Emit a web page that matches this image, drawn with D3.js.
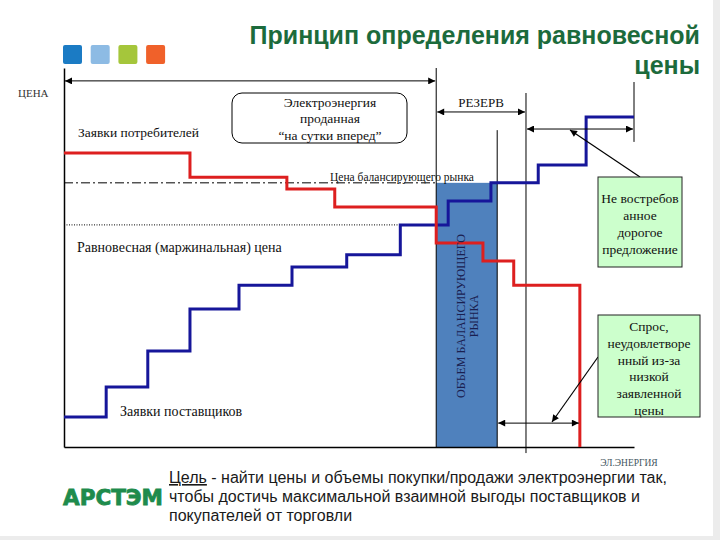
<!DOCTYPE html>
<html>
<head>
  <meta charset="utf-8">
  <title>Принцип определения равновесной цены</title>
  <script src="https://d3js.org/d3.v7.min.js"></script>
  <style>
    body { margin: 0; background: #ffffff; }
  </style>
</head>
<body>
<script type="text/javascript">
  var w = 720;
  var h = 540;
  var serif = "'Liberation Serif', 'DejaVu Serif', 'Times New Roman', serif";

  // volume (x) and price (y) in relative units 0..100
  var demandVol   = [0, 22.1, 39.1, 47.5, 65.3, 73.5, 78.9, 90.5];
  var demandPrice = [77.6, 71.2, 68.1, 63.3, 53.8, 49.1, 42.7, 0];

  var supplyVol   = [0, 7.4, 14.7, 22.1, 30.7, 40, 49.6, 59, 67.4, 74.9, 83.2, 91.6, 100];
  var supplyPrice = [7.9, 15.8, 25.3, 36.4, 42.7, 47.5, 50.7, 58.6, 64.9, 69.7, 74.4, 87.1, 87.1];

  var equilibriumPrice = 58.6;   // равновесная цена
  var balancingPrice = 69.7;     // цена балансирующего рынка
  var balancingVol = [65.3, 76.0]; // объем балансирующего рынка
  var reserveVol = [65.3, 81.05];
  var unclaimedVol = [81.05, 100];
  var unmetVol = [76.0, 90.5];

  var logoColors = ["#1b7bc4", "#8dbbe4", "#a5c63b", "#f0612a"];

  var svg = d3.select("body").append("svg")
    .attr("width", w)
    .attr("height", h);

  // slide frame: light grey edge on right and bottom
  svg.append("rect").attr("width", w).attr("height", h).attr("fill", "#ececec");
  svg.append("rect").attr("width", 713).attr("height", 536).attr("fill", "#ffffff");

  var x = d3.scaleLinear().domain([0, 100]).range([64, 634]);
  var y = d3.scaleLinear().domain([0, 100]).range([447, 68]);

  // arrow heads
  var defs = svg.append("defs");
  defs.append("marker")
    .attr("id", "arr")
    .attr("viewBox", "0 0 10 10")
    .attr("refX", 10).attr("refY", 5)
    .attr("markerWidth", 9).attr("markerHeight", 7)
    .attr("markerUnits", "userSpaceOnUse")
    .attr("orient", "auto-start-reverse")
    .append("path").attr("d", "M0,0 L10,5 L0,10 z").attr("fill", "#000");

  // little squares of the template
  svg.selectAll("rect.logo")
    .data(logoColors)
    .enter()
    .append("rect")
    .attr("class", "logo")
    .attr("x", function(d, i){ return 63 + i * 27.7; })
    .attr("y", 45)
    .attr("width", 19).attr("height", 19)
    .attr("rx", 2)
    .attr("fill", function(d){ return d; });

  // title
  svg.append("text")
    .attr("x", 700).attr("y", 44)
    .attr("text-anchor", "end")
    .style("font-family", "Liberation Sans, Arial, sans-serif")
    .style("font-weight", "bold")
    .style("font-size", "25px")
    .attr("fill", "#1c6b3c")
    .text("Принцип определения равновесной");
  svg.append("text")
    .attr("x", 700).attr("y", 74)
    .attr("text-anchor", "end")
    .style("font-family", "Liberation Sans, Arial, sans-serif")
    .style("font-weight", "bold")
    .style("font-size", "25px")
    .attr("fill", "#1c6b3c")
    .text("цены");

  // balancing market volume (blue column)
  svg.append("rect")
    .attr("x", x(balancingVol[0]))
    .attr("y", y(balancingPrice))
    .attr("width", x(balancingVol[1]) - x(balancingVol[0]))
    .attr("height", y(0) - y(balancingPrice))
    .attr("fill", "#4f81bd");

  // axes without ticks
  svg.append("g")
    .attr("transform", "translate(0," + y(0) + ")")
    .call(d3.axisBottom(x).ticks(0).tickSizeOuter(0))
    .select(".domain").attr("stroke-width", 1.5);
  svg.append("g")
    .attr("transform", "translate(" + x(0) + ",0)")
    .call(d3.axisLeft(y).ticks(0).tickSizeOuter(0))
    .select(".domain").attr("stroke-width", 1.5);

  // vertical guide lines
  var guides = [
    {v: 65.3, p0: 0, p1: 100},
    {v: 76.0, p0: 0, p1: 83.6},
    {v: 81.05, p0: -1.6, p1: 93.4},
    {v: 100, p0: 80.5, p1: 96.3}
  ];
  svg.selectAll("line.guide")
    .data(guides)
    .enter()
    .append("line")
    .attr("class", "guide")
    .attr("x1", function(d){ return x(d.v); })
    .attr("x2", function(d){ return x(d.v); })
    .attr("y1", function(d){ return y(d.p0); })
    .attr("y2", function(d){ return y(d.p1); })
    .attr("stroke", "#000").attr("stroke-width", 1);

  // horizontal price lines
  svg.append("line")
    .attr("x1", x(0)).attr("x2", x(balancingVol[0]))
    .attr("y1", y(balancingPrice)).attr("y2", y(balancingPrice))
    .attr("stroke", "#000").attr("stroke-width", 1)
    .attr("stroke-dasharray", "9,3,2,3");
  svg.append("line")
    .attr("x1", x(0)).attr("x2", x(59))
    .attr("y1", y(equilibriumPrice)).attr("y2", y(equilibriumPrice))
    .attr("stroke", "#000").attr("stroke-width", 1)
    .attr("stroke-dasharray", "1,1.5");

  // step curves
  var line = d3.line()
    .x(function(d){ return x(d.v); })
    .y(function(d){ return y(d.p); })
    .curve(d3.curveStepAfter);

  var demand = demandVol.map(function(v, i){ return {v: v, p: demandPrice[i]}; });
  var supply = supplyVol.map(function(v, i){ return {v: v, p: supplyPrice[i]}; });

  svg.append("path").datum(supply)
    .attr("d", line)
    .attr("fill", "none").attr("stroke", "#16169a").attr("stroke-width", 3);
  svg.append("path").datum(demand)
    .attr("d", line)
    .attr("fill", "none").attr("stroke", "#dd1f1f").attr("stroke-width", 3);

  // dimension arrows
  var arrows = [
    {a: 0, b: 65.3, p: 96.6},
    {a: reserveVol[0], b: reserveVol[1], p: 88.4},
    {a: unclaimedVol[0], b: unclaimedVol[1], p: 83.9},
    {a: unmetVol[0], b: unmetVol[1], p: 6.3}
  ];
  svg.selectAll("line.dim")
    .data(arrows)
    .enter()
    .append("line")
    .attr("class", "dim")
    .attr("x1", function(d){ return x(d.a) + 1; })
    .attr("x2", function(d){ return x(d.b) - 1; })
    .attr("y1", function(d){ return y(d.p); })
    .attr("y2", function(d){ return y(d.p); })
    .attr("stroke", "#000").attr("stroke-width", 1)
    .attr("marker-start", "url(#arr)")
    .attr("marker-end", "url(#arr)");

  // leader lines from the green notes
  svg.append("line")
    .attr("x1", 640).attr("y1", 177).attr("x2", 570).attr("y2", 130)
    .attr("stroke", "#000").attr("stroke-width", 1.2).attr("marker-end", "url(#arr)");
  svg.append("line")
    .attr("x1", 598).attr("y1", 357).attr("x2", 552).attr("y2", 422)
    .attr("stroke", "#000").attr("stroke-width", 1.2).attr("marker-end", "url(#arr)");

  // text labels
  function label(tx, ty, str, size, anchor){
    return svg.append("text")
      .attr("x", tx).attr("y", ty)
      .attr("text-anchor", anchor || "start")
      .style("font-family", serif)
      .style("font-size", size + "px")
      .attr("fill", "#111")
      .text(str);
  }
  label(18, 97, "ЦЕНА", 11).attr("fill", "#333");
  label(78, 137, "Заявки  потребителей", 13.5);
  label(481, 107, "РЕЗЕРВ", 13, "middle");
  label(330, 181, "Цена  балансирующего рынка", 11.5);
  label(77, 252, "Равновесная (маржинальная) цена", 14);
  label(120, 416, "Заявки  поставщиков", 14);
  label(629, 466, "ЭЛ.ЭНЕРГИЯ", 9.5, "middle").attr("fill", "#3f5560");

  // day-ahead box
  svg.append("rect")
    .attr("x", 232).attr("y", 93).attr("width", 175).attr("height", 50)
    .attr("rx", 10)
    .attr("fill", "#fff").attr("stroke", "#000").attr("stroke-width", 1);
  label(330, 107, "Электроэнергия", 13.5, "middle");
  label(330, 123, "проданная", 13.5, "middle");
  label(330, 140, "“на сутки вперед”", 13.5, "middle");

  // vertical text inside the blue column
  var vt = svg.append("text")
    .attr("transform", "translate(465,316) rotate(-90)")
    .attr("text-anchor", "middle")
    .style("font-family", serif)
    .style("font-size", "12px")
    .attr("fill", "#1a2050");
  vt.append("tspan").attr("x", 0).attr("y", 0).text("ОБЪЕМ БАЛАНСИРУЮЩЕГО");
  vt.append("tspan").attr("x", 0).attr("y", 13).text("РЫНКА");

  // green notes
  var notes = [
    {x0: 598, y0: 177, w: 84, h: 90, lines: ["Не востребов", "анное", "дорогое", "предложение"], top: 203, step: 17},
    {x0: 598, y0: 315, w: 102, h: 102, lines: ["Спрос,", "неудовлетворе", "нный из-за", "низкой", "заявленной", "цены"], top: 331, step: 16.8}
  ];
  notes.forEach(function(n){
    svg.append("rect")
      .attr("x", n.x0).attr("y", n.y0).attr("width", n.w).attr("height", n.h)
      .attr("fill", "#ccffcc").attr("stroke", "#222").attr("stroke-width", 1);
    n.lines.forEach(function(s, i){
      label(n.x0 + n.w / 2, n.top + i * n.step, s, 13.5, "middle");
    });
  });

  // goal text at the bottom
  var goal = svg.append("g")
    .style("font-family", "Liberation Sans, Arial, sans-serif")
    .style("font-size", "16px")
    .attr("fill", "#1a1a1a");
  var g1 = goal.append("text").attr("x", 169).attr("y", 483);
  g1.append("tspan").style("text-decoration", "underline").text("Цель");
  g1.append("tspan").text("  - найти цены и объемы покупки/продажи электроэнергии так,");
  goal.append("text").attr("x", 169).attr("y", 502)
    .text("чтобы достичь максимальной взаимной выгоды поставщиков и");
  goal.append("text").attr("x", 169).attr("y", 521)
    .text("покупателей от торговли");

  // company logo
  svg.append("text")
    .attr("x", 63).attr("y", 505)
    .attr("textLength", 100).attr("lengthAdjust", "spacingAndGlyphs")
    .style("font-family", "DejaVu Sans, sans-serif")
    .style("font-weight", "bold")
    .style("font-size", "21px")
    .style("stroke", "#1e8b4c").style("stroke-width", 0.8)
    .attr("fill", "#1e8b4c")
    .text("АРСТЭМ");
</script>
</body>
</html>
